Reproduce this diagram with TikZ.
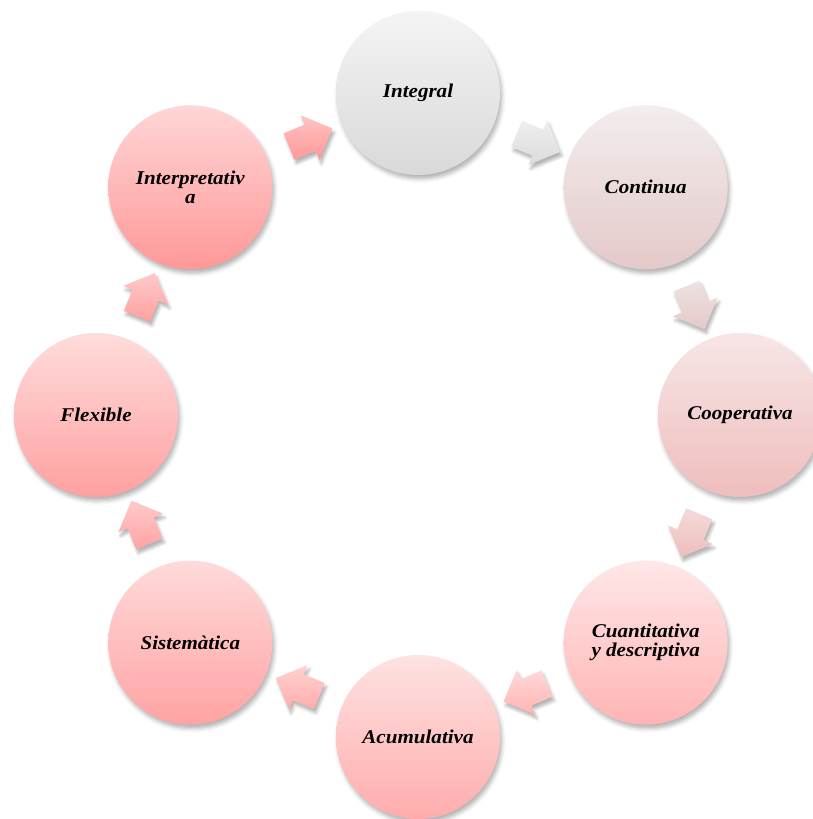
\documentclass[tikz,border=0pt]{standalone}
\usepackage{fontspec}
\setmainfont{Liberation Serif}[FakeStretch=1.08]
\usetikzlibrary{shapes.arrows,calc,shadows.blur}
\begin{document}
\begin{tikzpicture}[x=1pt,y=1pt,
  circ/.style={circle, minimum size=164pt, inner sep=0pt, align=center,
    font=\fontsize{19.5}{19}\selectfont\bfseries\itshape,
    blur shadow={shadow xshift=2pt, shadow yshift=-4pt, shadow blur radius=4pt, shadow opacity=30}},
  arr/.style={single arrow, minimum height=47pt, inner xsep=0pt, inner ysep=14pt,
    single arrow head extend=10pt,
    blur shadow={shadow xshift=2pt, shadow yshift=-4pt, shadow blur radius=3pt, shadow opacity=30}},
  sh/.style 2 args={top color=#1, bottom color=#2}
]
\useasboundingbox (0,0) rectangle (813,819);
\coordinate (O) at (418,404);
\definecolor{t1}{HTML}{F4F4F4}\definecolor{b1}{HTML}{D9D9D9}
\definecolor{t2}{HTML}{F3EDED}\definecolor{b2}{HTML}{E4C9C9}
\definecolor{t3}{HTML}{F7E6E6}\definecolor{b3}{HTML}{EFBDBD}
\definecolor{t4}{HTML}{FFE7E7}\definecolor{b4}{HTML}{FFB4B4}
\definecolor{t5}{HTML}{FFE2E2}\definecolor{b5}{HTML}{FFACAC}
\definecolor{t6}{HTML}{FFDADA}\definecolor{b6}{HTML}{FFA3A3}
\definecolor{t7}{HTML}{FFDCDC}\definecolor{b7}{HTML}{FFA0A0}
\definecolor{t8}{HTML}{FFD6D6}\definecolor{b8}{HTML}{FF9898}

\node[circ, sh={t1}{b1}] (c1) at ([shift={(90:322)}]O) {Integral};
\node[circ, sh={t2}{b2}] (c2) at ([shift={(45:322)}]O) {Continua};
\node[circ, sh={t3}{b3}] (c3) at ([shift={(0:322)}]O) {Cooperativa};
\node[circ, sh={t4}{b4}] (c4) at ([shift={(-45:322)}]O) {Cuantitativa\\y descriptiva};
\node[circ, sh={t5}{b5}] (c5) at ([shift={(-90:322)}]O) {Acumulativa};
\node[circ, sh={t6}{b6}] (c6) at ([shift={(-135:322)}]O) {Sistemàtica};
\node[circ, sh={t7}{b7}] (c7) at ([shift={(180:322)}]O) {Flexible};
\node[circ, sh={t8}{b8}] (c8) at ([shift={(135:322)}]O) {Interpretativ\\a};

\node[arr, sh={t1!80!b1}{b1!90!t1}, rotate=-22.5]  (a1) at ($(c1)!0.5!(c2)$) {};
\node[arr, sh={t2!70!b2}{b2}, rotate=-67.5]  (a2) at ($(c2)!0.5!(c3)$) {};
\node[arr, sh={t3!70!b3}{b3}, rotate=-112.5] (a3) at ($(c3)!0.5!(c4)$) {};
\node[arr, sh={t4!70!b4}{b4}, rotate=-157.5] (a4) at ($(c4)!0.5!(c5)$) {};
\node[arr, sh={t5!70!b5}{b5}, rotate=157.5]  (a5) at ($(c5)!0.5!(c6)$) {};
\node[arr, sh={t6!70!b6}{b6}, rotate=112.5]  (a6) at ($(c6)!0.5!(c7)$) {};
\node[arr, sh={t7!70!b7}{b7}, rotate=67.5]   (a7) at ($(c7)!0.5!(c8)$) {};
\node[arr, sh={t8!70!b8}{b8}, rotate=22.5]   (a8) at ($(c8)!0.5!(c1)$) {};
\end{tikzpicture}
\end{document}
